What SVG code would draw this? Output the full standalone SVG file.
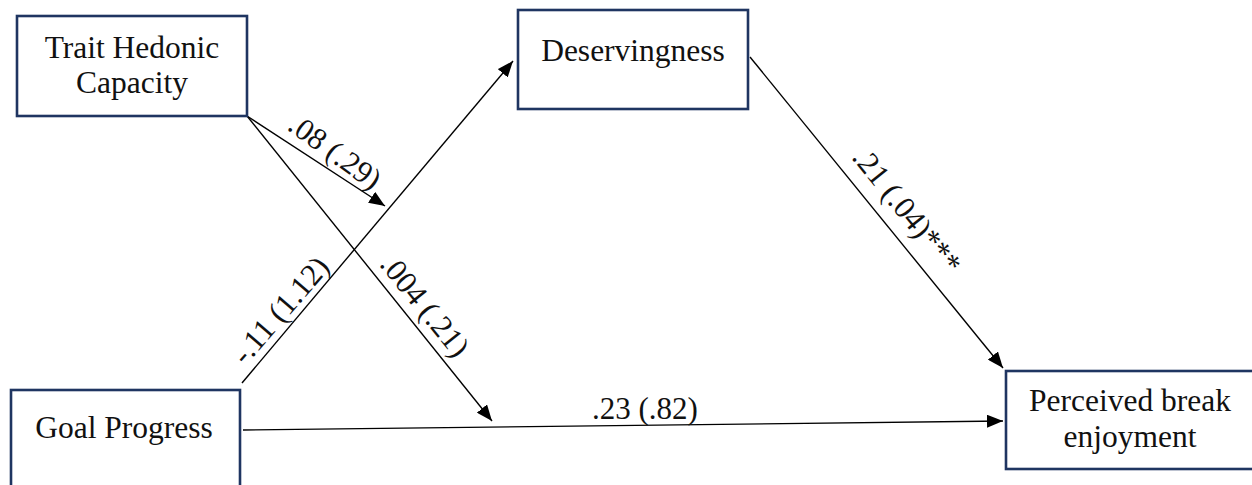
<svg xmlns="http://www.w3.org/2000/svg" width="1252" height="485" viewBox="0 0 1252 485">
  <defs>
    <marker id="arrow" viewBox="0 0 16 13" refX="16" refY="6.5" markerWidth="16" markerHeight="13" markerUnits="userSpaceOnUse" orient="auto">
      <path d="M0,0 L16,6.5 L0,13 Z" fill="#000"/>
    </marker>
    <style>
      .box { fill: #fff; stroke: #1f3561; stroke-width: 2.6; }
      .label { font-family: "Liberation Serif", "Times New Roman", serif; font-size: 31.5px; fill: #111; text-anchor: middle; }
      .coef { font-family: "Liberation Serif", "Times New Roman", serif; font-size: 31px; fill: #111; text-anchor: middle; }
      .path { stroke: #000; stroke-width: 1.4; fill: none; marker-end: url(#arrow); }
    </style>
  </defs>
  <rect width="1252" height="485" fill="#fff"/>

  <g id="connectors">
    <!-- Trait Hedonic Capacity moderating the Goal Progress -> Deservingness path -->
    <line class="path" x1="247" y1="116" x2="385" y2="206"/>
    <!-- Trait Hedonic Capacity moderating the direct path -->
    <line class="path" x1="247" y1="116" x2="492" y2="421"/>
    <!-- Goal Progress -> Deservingness -->
    <line class="path" x1="242" y1="383" x2="513" y2="61"/>
    <!-- Deservingness -> Perceived break enjoyment -->
    <line class="path" x1="750" y1="57" x2="1003" y2="368"/>
    <!-- Goal Progress -> Perceived break enjoyment -->
    <line class="path" x1="243" y1="430" x2="1003" y2="421"/>

    <text class="coef" transform="translate(329,160) rotate(36)">.08 (.29)</text>
    <text class="coef" transform="translate(417,312) rotate(51)">.004 (.21)</text>
    <text class="coef" transform="translate(288,317) rotate(-49)">-.11 (1.12)</text>
    <text class="coef" transform="translate(899,217) rotate(51)">.21 (.04)***</text>
    <text class="coef" x="645" y="419">.23 (.82)</text>
  </g>

  <g id="trait-hedonic-capacity">
    <rect class="box" x="17" y="16" width="230" height="100"/>
    <text class="label" x="132" y="58">Trait Hedonic</text>
    <text class="label" x="132" y="93">Capacity</text>
  </g>

  <g id="deservingness">
    <rect class="box" x="518" y="10" width="230" height="99"/>
    <text class="label" x="633" y="61">Deservingness</text>
  </g>

  <g id="goal-progress">
    <rect class="box" x="11" y="390" width="229" height="110"/>
    <text class="label" x="124" y="438">Goal Progress</text>
  </g>

  <g id="perceived-break-enjoyment">
    <rect class="box" x="1006" y="371" width="260" height="98"/>
    <text class="label" x="1130" y="411">Perceived break</text>
    <text class="label" x="1130" y="447">enjoyment</text>
  </g>
</svg>
